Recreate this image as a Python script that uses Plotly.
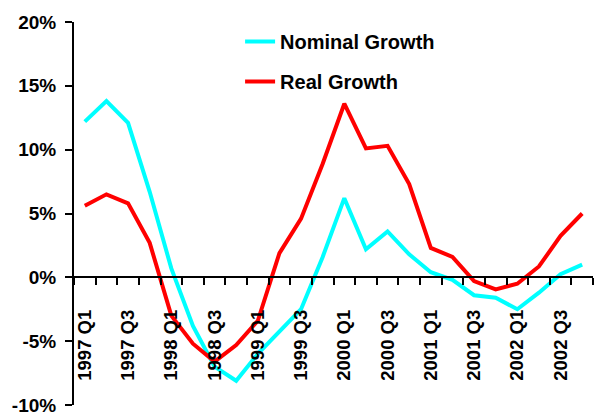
import plotly.graph_objects as go

quarters = ["1997 Q1", "1997 Q2", "1997 Q3", "1997 Q4",
            "1998 Q1", "1998 Q2", "1998 Q3", "1998 Q4",
            "1999 Q1", "1999 Q2", "1999 Q3", "1999 Q4",
            "2000 Q1", "2000 Q2", "2000 Q3", "2000 Q4",
            "2001 Q1", "2001 Q2", "2001 Q3", "2001 Q4",
            "2002 Q1", "2002 Q2", "2002 Q3", "2002 Q4"]

nominal_growth = [12.2, 13.8, 12.1, 6.7, 0.7, -3.8, -7.0, -8.1,
                  -6.0, -4.2, -2.5, 1.6, 6.2, 2.2, 3.6, 1.8,
                  0.4, -0.2, -1.4, -1.6, -2.5, -1.2, 0.25, 1.0]

real_growth = [5.6, 6.5, 5.8, 2.7, -3.0, -5.2, -6.6, -5.3,
               -3.4, 1.9, 4.6, 8.9, 13.6, 10.1, 10.3, 7.3,
               2.3, 1.6, -0.3, -0.95, -0.5, 0.85, 3.25, 5.0]

y_tick_values = [-10, -5, 0, 5, 10, 15, 20]
y_tick_labels = ["-10%", "-5%", "0%", "5%", "10%", "15%", "20%"]

x_idx = list(range(len(quarters)))
label_idx = x_idx[::2]
label_text = [quarters[i] for i in label_idx]
boundaries = [i - 0.5 for i in range(len(quarters) + 1)]
x_range = [-0.5, len(quarters) - 0.5]

FONT = "Liberation Sans, Arial, sans-serif"

fig = go.Figure()
fig.add_trace(go.Scatter(x=x_idx, y=nominal_growth, mode="lines",
                         name="Nominal Growth", legendgroup="n",
                         line=dict(color="#00FFFF", width=4)))
fig.add_trace(go.Scatter(x=x_idx, y=real_growth, mode="lines",
                         name="Real Growth", legendgroup="r",
                         line=dict(color="#FF0000", width=4)))
# empty trace so the tick-mark axis is drawn
fig.add_trace(go.Scatter(x=[], y=[], xaxis="x2", yaxis="y",
                         showlegend=False, hoverinfo="skip"))

fig.update_layout(
    width=595, height=418,
    margin=dict(l=74, r=2, t=22, b=10),
    paper_bgcolor="white", plot_bgcolor="white",
    font=dict(family=FONT, size=19, color="black", weight=700),
    showlegend=True,
    legend=dict(x=0.32, y=1.0, xanchor="left", yanchor="top",
                bgcolor="rgba(0,0,0,0)", traceorder="grouped",
                tracegroupgap=11,
                font=dict(family=FONT, size=20, color="black", weight=700)),
    xaxis=dict(
        range=x_range,
        anchor="free", position=1/3,
        showline=True, linecolor="black", linewidth=2,
        showgrid=False, zeroline=False,
        tickmode="array", tickvals=label_idx, ticktext=label_text,
        ticks="outside", ticklen=22, tickcolor="rgba(0,0,0,0)",
        tickangle=-90, ticklabelstandoff=2,
        tickfont=dict(family=FONT, size=18.5, color="black", weight=700),
    ),
    xaxis2=dict(
        range=x_range, overlaying="x",
        anchor="free", position=1/3, side="bottom",
        showline=False, showgrid=False, zeroline=False,
        tickmode="array", tickvals=boundaries, showticklabels=False,
        ticks="outside", ticklen=7, tickwidth=2, tickcolor="black",
    ),
    yaxis=dict(
        range=[-10, 20],
        showline=True, linecolor="black", linewidth=2,
        showgrid=False, zeroline=False,
        tickmode="array", tickvals=y_tick_values, ticktext=y_tick_labels,
        ticks="outside", ticklen=7, tickwidth=2, tickcolor="black",
        ticklabelstandoff=5, ticklabeloverflow="allow",
        tickfont=dict(family=FONT, size=19, color="black", weight=700),
    ),
)

fig.write_html("out.html")
